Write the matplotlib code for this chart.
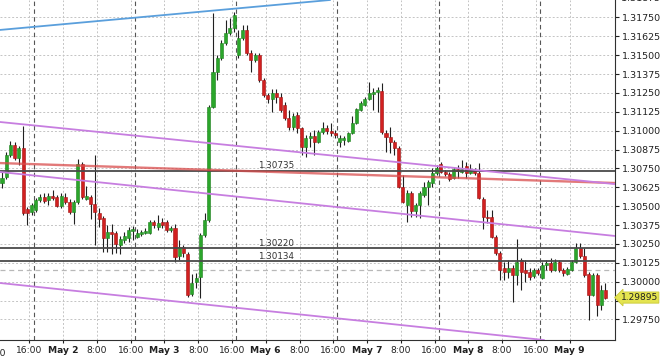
import matplotlib
matplotlib.use('Agg')
import matplotlib.pyplot as plt
import matplotlib.transforms as mtransforms

# Hourly candles, GBPUSD, from May 1 late to May 9 morning
opens = [1.30653, 1.30693, 1.30839, 1.30905, 1.30819, 1.30885, 1.30481, 1.30462, 1.30475, 1.30541,
         1.30561, 1.30541, 1.30567, 1.30561, 1.30501, 1.30561, 1.30528, 1.30462, 1.30528, 1.30779,
         1.30548, 1.30561, 1.30515, 1.30455, 1.30422, 1.30289, 1.30329, 1.30322, 1.30243, 1.30276,
         1.30289, 1.30336, 1.30296, 1.30316, 1.30322, 1.30322, 1.30395, 1.30362, 1.30395, 1.30395,
         1.30342, 1.30356, 1.30170, 1.30230, 1.30183, 1.29919, 1.29998, 1.30031, 1.30309, 1.30409,
         1.31157, 1.31388, 1.31481, 1.31580, 1.31646, 1.31680, 1.31501, 1.31613, 1.31666, 1.31514,
         1.31468, 1.31501, 1.31335, 1.31236, 1.31210, 1.31249, 1.31223, 1.31170, 1.31084, 1.31024,
         1.31104, 1.31018, 1.30892, 1.30951, 1.30965, 1.30925, 1.30991, 1.31018, 1.30998, 1.30985,
         1.30925, 1.30938, 1.30932, 1.30985, 1.31051, 1.31137, 1.31170, 1.31210, 1.31243, 1.31256,
         1.31263, 1.30985, 1.30958, 1.30925, 1.30885, 1.30627, 1.30508, 1.30587, 1.30468, 1.30508,
         1.30574, 1.30627, 1.30653, 1.30720, 1.30779, 1.30726, 1.30713, 1.30687, 1.30746, 1.30726,
         1.30766, 1.30720, 1.30740, 1.30720, 1.30548, 1.30428, 1.30428, 1.30296, 1.30190, 1.30091,
         1.30064, 1.30091, 1.30045, 1.30144, 1.30078, 1.30064, 1.30038, 1.30078, 1.30025, 1.30111,
         1.30124, 1.30078, 1.30131, 1.30078, 1.30051, 1.30078, 1.30131, 1.30223, 1.30170, 1.30051,
         1.29912, 1.30045, 1.29846, 1.29945]
closes = [1.30687, 1.30839, 1.30905, 1.30819, 1.30885, 1.30455, 1.30455, 1.30508, 1.30541, 1.30561,
          1.30534, 1.30567, 1.30554, 1.30501, 1.30567, 1.30528, 1.30462, 1.30528, 1.30779, 1.30561,
          1.30567, 1.30515, 1.30462, 1.30415, 1.30289, 1.30329, 1.30316, 1.30250, 1.30283, 1.30303,
          1.30342, 1.30349, 1.30322, 1.30329, 1.30336, 1.30395, 1.30375, 1.30389, 1.30375, 1.30342,
          1.30356, 1.30164, 1.30230, 1.30190, 1.29912, 1.29991, 1.30025, 1.30309, 1.30409, 1.31157,
          1.31388, 1.31481, 1.31580, 1.31646, 1.31680, 1.31766, 1.31613, 1.31666, 1.31514, 1.31468,
          1.31501, 1.31335, 1.31236, 1.31210, 1.31249, 1.31223, 1.31137, 1.31084, 1.31024, 1.31097,
          1.31018, 1.30892, 1.30951, 1.30965, 1.30925, 1.30991, 1.31018, 1.30998, 1.30985, 1.30971,
          1.30951, 1.30951, 1.30985, 1.31051, 1.31143, 1.31183, 1.31210, 1.31249, 1.31256, 1.31269,
          1.30991, 1.30958, 1.30925, 1.30885, 1.30627, 1.30528, 1.30587, 1.30468, 1.30508, 1.30587,
          1.30627, 1.30660, 1.30720, 1.30753, 1.30726, 1.30713, 1.30680, 1.30746, 1.30733, 1.30746,
          1.30720, 1.30746, 1.30720, 1.30554, 1.30428, 1.30422, 1.30296, 1.30190, 1.30078, 1.30064,
          1.30091, 1.30045, 1.30131, 1.30064, 1.30058, 1.30031, 1.30078, 1.30058, 1.30111, 1.30124,
          1.30078, 1.30131, 1.30078, 1.30058, 1.30084, 1.30131, 1.30223, 1.30170, 1.30045, 1.29912,
          1.30045, 1.29846, 1.29945, 1.29895]
highs = [1.30726, 1.30859, 1.30932, 1.30925, 1.30898, 1.31031, 1.30495, 1.30521, 1.30554, 1.30581,
         1.30587, 1.30587, 1.30607, 1.30574, 1.30587, 1.30587, 1.30548, 1.30541, 1.30812, 1.30793,
         1.30634, 1.30574, 1.30839, 1.30488, 1.30435, 1.30375, 1.30382, 1.30336, 1.30303, 1.30329,
         1.30362, 1.30369, 1.30349, 1.30342, 1.30356, 1.30409, 1.30409, 1.30442, 1.30422, 1.30409,
         1.30369, 1.30382, 1.30276, 1.30243, 1.30197, 1.30051, 1.30058, 1.30322, 1.30455, 1.31170,
         1.31779, 1.31501, 1.31600, 1.31733, 1.31746, 1.31786, 1.31666, 1.31699, 1.31699, 1.31534,
         1.31514, 1.31514, 1.31349, 1.31249, 1.31276, 1.31276, 1.31249, 1.31190, 1.31137, 1.31117,
         1.31124, 1.31024, 1.30971, 1.30991, 1.31004, 1.31004, 1.31057, 1.31038, 1.31051, 1.31004,
         1.30971, 1.30965, 1.30991, 1.31097, 1.31150, 1.31196, 1.31223, 1.31322, 1.31282, 1.31289,
         1.31315, 1.31004, 1.31024, 1.30938, 1.30898, 1.30706, 1.30607, 1.30601, 1.30521, 1.30601,
         1.30660, 1.30673, 1.30753, 1.30773, 1.30793, 1.30740, 1.30726, 1.30759, 1.30773, 1.30806,
         1.30793, 1.30779, 1.30753, 1.30786, 1.30561, 1.30475, 1.30475, 1.30309, 1.30203, 1.30131,
         1.30144, 1.30111, 1.30283, 1.30157, 1.30144, 1.30091, 1.30091, 1.30091, 1.30131, 1.30144,
         1.30157, 1.30150, 1.30144, 1.30091, 1.30097, 1.30144, 1.30256, 1.30256, 1.30223, 1.30064,
         1.30058, 1.30058, 1.29978, 1.29991]
lows = [1.30620, 1.30680, 1.30826, 1.30806, 1.30773, 1.30442, 1.30375, 1.30442, 1.30462, 1.30528,
        1.30521, 1.30508, 1.30541, 1.30495, 1.30488, 1.30515, 1.30448, 1.30382, 1.30515, 1.30548,
        1.30541, 1.30415, 1.30243, 1.30362, 1.30197, 1.30197, 1.30183, 1.30190, 1.30183, 1.30256,
        1.30263, 1.30276, 1.30289, 1.30303, 1.30316, 1.30316, 1.30356, 1.30342, 1.30356, 1.30329,
        1.30329, 1.30131, 1.30144, 1.30164, 1.29899, 1.29905, 1.29958, 1.29892, 1.30296, 1.30395,
        1.31150, 1.31335, 1.31468, 1.31567, 1.31633, 1.31653, 1.31481, 1.31600, 1.31501, 1.31388,
        1.31455, 1.31322, 1.31223, 1.31183, 1.31124, 1.31183, 1.31124, 1.31071, 1.31004, 1.31004,
        1.30985, 1.30839, 1.30826, 1.30892, 1.30839, 1.30918, 1.30978, 1.30978, 1.30965, 1.30951,
        1.30892, 1.30905, 1.30925, 1.30978, 1.31044, 1.31130, 1.31163, 1.31203, 1.31137, 1.31124,
        1.30978, 1.30859, 1.30852, 1.30839, 1.30620, 1.30521, 1.30395, 1.30428, 1.30428, 1.30422,
        1.30561, 1.30508, 1.30627, 1.30706, 1.30720, 1.30700, 1.30667, 1.30680, 1.30687, 1.30720,
        1.30687, 1.30713, 1.30706, 1.30548, 1.30349, 1.30389, 1.30289, 1.30177, 1.30011, 1.30011,
        1.30025, 1.29866, 1.29978, 1.29945, 1.29998, 1.30011, 1.30025, 1.30045, 1.30018, 1.30078,
        1.30064, 1.30071, 1.30064, 1.30038, 1.30045, 1.30071, 1.30124, 1.30157, 1.30031, 1.29747,
        1.29905, 1.29773, 1.29813, 1.29886]

# time axis labels, one every 8 bars
time_labels = ['16:00', 'May 2', '8:00', '16:00', 'May 3', '8:00', '16:00', 'May 6', '8:00',
               '16:00', 'May 7', '8:00', '16:00', 'May 8', '8:00', '16:00', 'May 9']
first_label_bar = 6.5
day_separators = [7.5, 31.5, 55.5, 79.5, 103.5, 127.5]

price_ticks = [1.29750 + 0.00125 * i for i in range(17)]
level_prices = [1.30735, 1.30220, 1.30134]
dashed_level = 1.30078
last_price = 1.29895

# trend lines: (bar0, price0, bar1, price1)
blue_line = (0, 1.31668, 140, 1.32023)
red_line = (0, 1.30785, 140, 1.30658)
purple_lines = [(0, 1.31056, 140, 1.30661),
                (0, 1.30725, 140, 1.30318),
                (0, 1.29990, 140, 1.29580)]

fig = plt.figure(figsize=(6.6, 3.58), dpi=100)
ax = fig.add_axes([0, 18 / 358, 615 / 660, 340 / 358])
ax.set_xlim(-0.47, 145.26)
ax.set_ylim(1.29614, 1.31865)

bars = range(len(opens))
up_col, up_edge = '#2ba62b', '#1d801d'
dn_col, dn_edge = '#d22020', '#a01010'

# Grid
ax.set_yticks(price_ticks)
ax.grid(axis='y', color='#c4c4c4', linestyle=(0, (2, 2)), linewidth=0.7)
label_bars = [first_label_bar + 8 * i for i in range(len(time_labels))]
for b in [first_label_bar - 8] + label_bars:
    ax.axvline(b, color='#c4c4c4', linestyle=(0, (2, 2)), linewidth=0.7, zorder=0.5)
for b in day_separators:
    ax.axvline(b, color='#555555', linestyle=(0, (4, 3)), linewidth=0.8, zorder=0.6)

# Candles
colors = [up_col if c >= o else dn_col for o, c in zip(opens, closes)]
edges = [up_edge if c >= o else dn_edge for o, c in zip(opens, closes)]
ax.vlines(bars, lows, highs, color='#202020', linewidth=0.8, zorder=2)
bottoms = [min(o, c) for o, c in zip(opens, closes)]
heights = [max(abs(c - o), 0.00002) for o, c in zip(opens, closes)]
ax.bar(bars, heights, bottom=bottoms, width=0.72, color=colors, edgecolor=edges,
       linewidth=0.4, zorder=3)

# Lines
ax.axhline(dashed_level, color='#b8b8b8', linestyle=(0, (4, 3)), linewidth=0.9, zorder=1)
for p in level_prices:
    ax.axhline(p, color='#4a4a4a', linewidth=1.3, zorder=4)
    ax.text(60.6, p + 0.00004, '%.5f' % p, fontsize=6.3, color='#333333',
            va='bottom', ha='left', zorder=5)

def trend(line, color, lw, alpha=1.0):
    b0, p0, b1, p1 = line
    ax.axline((b0, p0), (b1, p1), color=color, linewidth=lw, alpha=alpha, zorder=4)

trend(blue_line, '#5a9fdc', 1.3)
trend(red_line, '#d94c4c', 1.7, 0.75)
for ln in purple_lines:
    trend(ln, '#c77ee0', 1.3)

# Axes styling
for s in ['top', 'left']:
    ax.spines[s].set_visible(False)
ax.spines['right'].set_color('#303030')
ax.spines['bottom'].set_color('#303030')
ax.yaxis.tick_right()
ax.set_yticklabels(['' if abs(p - 1.29875) < 1e-6 else '%.5f' % p for p in price_ticks])
ax.tick_params(axis='y', labelsize=6.8, length=3, pad=2, colors='#202020')
ax.set_xticks(label_bars)
ax.set_xticklabels(time_labels)
ax.tick_params(axis='x', labelsize=6.6, length=2, pad=2, colors='#202020')
for lab in ax.get_xticklabels():
    if lab.get_text().startswith('May'):
        lab.set_fontweight('bold')

# labels cut off at the chart edges, as in the source screenshot
ax.text(first_label_bar - 8, 1.29614 - 0.00058, '8:00', fontsize=6.6, ha='center',
        va='top', color='#202020', clip_on=False)
yt = mtransforms.blended_transform_factory(ax.transAxes, ax.transData)
ax.text(1.0, 1.31875, '  1.31875', fontsize=6.8, transform=yt, va='center',
        ha='left', color='#202020', clip_on=False)

# last price marker
ax.text(1.009, last_price, '1.29895', transform=yt, fontsize=6.5, va='center', ha='left',
        color='#202020', clip_on=False, zorder=10,
        bbox=dict(boxstyle='larrow,pad=0.12', fc='#e4e450', ec='#c9c93a', lw=0.6))

fig.savefig('out.png', dpi=100)
